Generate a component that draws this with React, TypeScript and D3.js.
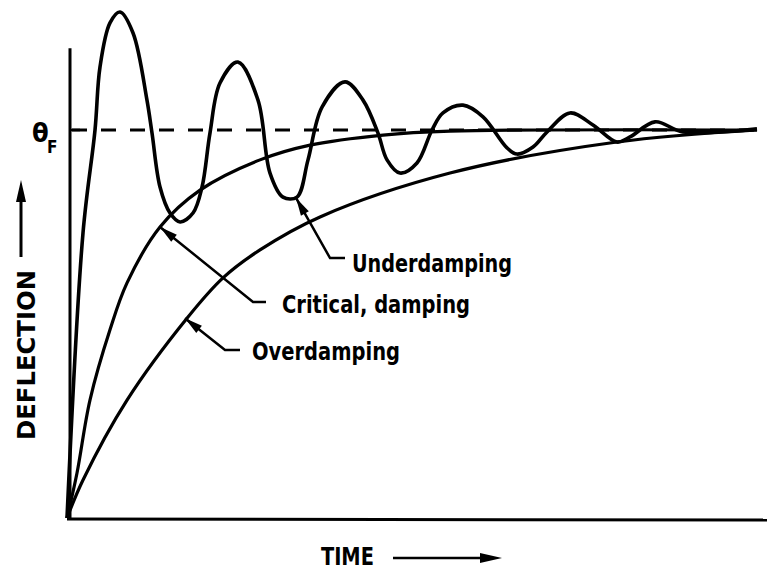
import React from 'react';
import * as d3 from 'd3';

// time in arbitrary units (0..10), deflection relative to final value θF (= 1)
const underT = [0, 0.232, 0.406, 0.478, 0.623, 0.768, 0.957, 1.159, 1.232, 1.348, 1.493, 1.638, 1.826, 1.957, 2.072, 2.217, 2.478, 2.768, 2.942, 3.13, 3.333, 3.493, 3.696, 4.029, 4.29, 4.507, 4.638, 4.826, 5.072, 5.29, 5.449, 5.739, 6.029, 6.377, 6.522, 6.754, 6.957, 7.29, 7.623, 7.971, 8.159, 8.522, 8.928, 10];
const underD = [0, 0.735, 1.0, 1.162, 1.276, 1.304, 1.25, 1.077, 0.992, 0.853, 0.786, 0.763, 0.786, 0.853, 0.992, 1.121, 1.175, 1.077, 0.889, 0.827, 0.827, 0.923, 1.059, 1.124, 1.077, 0.992, 0.923, 0.889, 0.915, 1.0, 1.044, 1.064, 1.034, 0.954, 0.938, 0.956, 0.995, 1.044, 1.013, 0.969, 0.982, 1.021, 0.995, 1.003];

const critT = [0, 0.145, 0.333, 0.623, 0.87, 1.348, 1.928, 2.797, 3.522, 4.58, 5.551, 10];
const critD = [0, 0.116, 0.304, 0.485, 0.606, 0.75, 0.845, 0.923, 0.961, 0.987, 0.997, 1.0];

const overT = [0, 0.232, 0.87, 1.739, 2.261, 2.797, 3.667, 5.551, 7.971, 10];
const overD = [0, 0.098, 0.304, 0.515, 0.619, 0.691, 0.776, 0.889, 0.969, 1.0];

// leader lines: tip on curve, elbow, end, label anchor (t, d)
const labels = ['Underdamping', 'Critical, damping', 'Overdamping'];
const leaderTip = [[3.319, 0.825], [1.348, 0.75], [1.71, 0.515]];
const leaderElbow = [[3.812, 0.67], [2.696, 0.557], [2.29, 0.433]];
const leaderEnd = [[4.029, 0.67], [2.884, 0.557], [2.507, 0.433]];
const labelAt = [[4.13, 0.635], [3.116, 0.528], [2.681, 0.407]];
const labelWidth = [160, 188, 148];

const yAxisTop = 1.211;
const xAxisEnd = 10.145;

const W = 772;
const H = 572;
const font = '"DejaVu Sans Condensed", "DejaVu Sans", sans-serif';

function arrowHead(tip: number[], from: number[], len = 18, half = 4.5) {
  const dx = from[0] - tip[0];
  const dy = from[1] - tip[1];
  const l = Math.hypot(dx, dy);
  const ux = dx / l, uy = dy / l;
  const bx = tip[0] + ux * len, by = tip[1] + uy * len;
  return `M${tip[0]},${tip[1]}L${bx - uy * half},${by + ux * half}L${bx + uy * half},${by - ux * half}Z`;
}

export default function App() {
  const x = d3.scaleLinear().domain([0, 10]).range([67, 757]);
  const y = d3.scaleLinear().domain([0, 1]).range([518, 130]);

  const line = d3.line<[number, number]>()
    .x(d => x(d[0]))
    .y(d => y(d[1]))
    .curve(d3.curveCatmullRom.alpha(0.5));

  const zip = (ts: number[], ds: number[]) => ts.map((t, i) => [t, ds[i]] as [number, number]);

  const timeLabelX = x(3.68);
  const timeY = 565;

  return (
    <svg width={W} height={H} style={{ position: 'absolute', left: 0, top: 0, background: '#fff' }}>
      {/* axes */}
      <line x1={x(0) + 3} y1={y(yAxisTop)} x2={x(0) + 3} y2={y(0) + 1} stroke="#000" strokeWidth={3} />
      <line x1={x(0)} y1={y(0) + 1} x2={x(xAxisEnd)} y2={y(0) + 2} stroke="#000" strokeWidth={3} />
      <line x1={x(0) + 3} y1={y(1)} x2={x(0) + 13} y2={y(1)} stroke="#000" strokeWidth={2.5} />

      {/* final value */}
      <line x1={x(0) + 5} y1={y(1)} x2={x(10)} y2={y(1)} stroke="#000" strokeWidth={3} strokeDasharray="15 14" />

      {/* curves */}
      <path d={line(zip(overT, overD)) ?? ''} fill="none" stroke="#000" strokeWidth={3.2} />
      <path d={line(zip(critT, critD)) ?? ''} fill="none" stroke="#000" strokeWidth={3.2} />
      <path d={line(zip(underT, underD)) ?? ''} fill="none" stroke="#000" strokeWidth={3.6} />

      {/* leaders and labels */}
      {labels.map((lab, i) => {
        const tip = [x(leaderTip[i][0]), y(leaderTip[i][1])];
        const el = [x(leaderElbow[i][0]), y(leaderElbow[i][1])];
        const en = [x(leaderEnd[i][0]), y(leaderEnd[i][1])];
        return (
          <g key={lab}>
            <path d={`M${tip[0]},${tip[1]}L${el[0]},${el[1]}L${en[0]},${en[1]}`} fill="none" stroke="#000" strokeWidth={2.5} />
            <path d={arrowHead(tip, el)} fill="#000" />
            <text x={x(labelAt[i][0])} y={y(labelAt[i][1])} fontFamily={font} fontWeight="bold" fontSize={24}
              textLength={labelWidth[i]} lengthAdjust="spacingAndGlyphs">{lab}</text>
          </g>
        );
      })}

      {/* θF */}
      <text x={32} y={142} fontFamily={font} fontWeight="bold" fontSize={27}>θ</text>
      <text x={47} y={153} fontFamily={font} fontWeight="bold" fontSize={17}>F</text>

      {/* y-axis title */}
      <text transform="translate(35,355) rotate(-90)" textAnchor="middle" fontFamily={font} fontWeight="bold"
        fontSize={24} textLength={170} lengthAdjust="spacingAndGlyphs">DEFLECTION</text>
      <line x1={21} y1={257} x2={21} y2={196} stroke="#000" strokeWidth={3} />
      <path d={arrowHead([21, 180], [21, 257], 22, 5)} fill="#000" />

      {/* x-axis title */}
      <text x={timeLabelX} y={timeY} fontFamily={font} fontWeight="bold" fontSize={24}
        textLength={53} lengthAdjust="spacingAndGlyphs">TIME</text>
      <line x1={393} y1={558} x2={486} y2={558} stroke="#000" strokeWidth={2.5} />
      <path d={arrowHead([502, 558], [393, 558], 22, 5)} fill="#000" />
    </svg>
  );
}
